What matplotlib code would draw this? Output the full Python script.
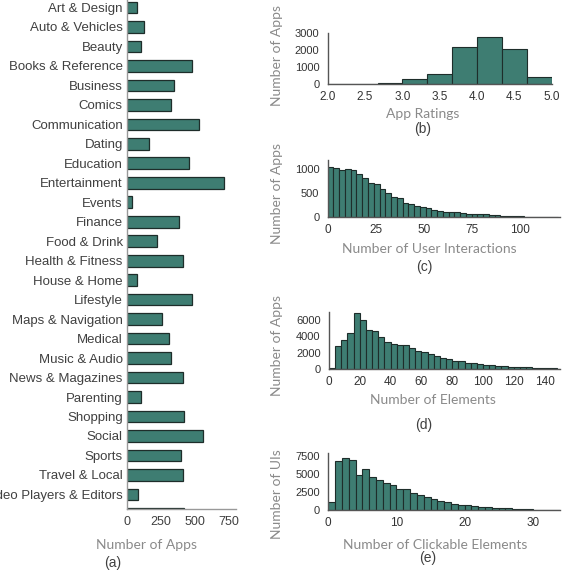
import matplotlib
matplotlib.use("Agg")
import matplotlib.pyplot as plt
import numpy as np

# (a) apps per category
categories = ["Art & Design", "Auto & Vehicles", "Beauty", "Books & Reference", "Business",
              "Comics", "Communication", "Dating", "Education", "Entertainment", "Events",
              "Finance", "Food & Drink", "Health & Fitness", "House & Home", "Lifestyle",
              "Maps & Navigation", "Medical", "Music & Audio", "News & Magazines", "Parenting",
              "Shopping", "Social", "Sports", "Travel & Local", "Video Players & Editors", "Weather"]
category_counts = [71, 125, 100, 479, 347, 322, 525, 159, 454, 713, 34, 381, 220, 410, 71, 479,
                   257, 310, 325, 413, 103, 415, 557, 396, 408, 83, 418]

# (b) app ratings, bins of 1/3 from 2.0 to 5.0
rating_edges = [2.0, 2.333, 2.667, 3.0, 3.333, 3.667, 4.0, 4.333, 4.667, 5.0]
rating_counts = [5, 10, 55, 305, 615, 2170, 2750, 2040, 420]

# (c) user interactions per app, bins of 3
interaction_bin = 3
interaction_counts = [1042, 1028, 979, 1000, 979, 910, 819, 722, 688, 590, 500, 430, 403, 292,
                      271, 236, 215, 185, 145, 125, 111, 104, 104, 97, 69, 62, 62, 62, 55, 42,
                      28, 28, 28, 21, 14, 14, 7, 7, 7, 7]

# (d) elements per UI, bins of 4
element_bin = 4
element_counts = [80, 2816, 3590, 4408, 6857, 6000, 4776, 4612, 3959, 3347, 3102, 2939, 2939,
                  2571, 2245, 2041, 1810, 1650, 1306, 1184, 1020, 1020, 776, 735, 612, 490, 449,
                  408, 327, 286, 245, 204, 204, 163, 122, 122, 82, 60]

# (e) clickable elements per UI, bins of 1
clickable_bin = 1
clickable_counts = [1060, 6728, 7143, 6912, 4885, 5668, 4608, 4101, 3687, 3410, 2949, 2949,
                    2350, 2074, 1797, 1520, 1290, 1106, 875, 691, 645, 507, 461, 369, 322, 276,
                    230, 138, 138, 92, 46, 35, 25, 15, 10]

BAR = "#3e7d72"
EDGE = "#1e2d2a"
LABEL_GRAY = "#8a8a8a"
TEXT = "#404040"
W, H = 566, 575

fig = plt.figure(figsize=(W / 100, H / 100), dpi=100)


def px_axes(left, top, right, bottom):
    return fig.add_axes([left / W, 1 - bottom / H, (right - left) / W, (bottom - top) / H])


def px_text(x, y, s, **kw):
    fig.text(x / W, 1 - y / H, s, ha="center", va="center", **kw)


def style(ax, xsize=8.5, ysize=8):
    for side in ["top", "right"]:
        ax.spines[side].set_visible(False)
    for side in ["left", "bottom"]:
        ax.spines[side].set_color("#555555")
        ax.spines[side].set_linewidth(1.0)
    ax.tick_params(length=0, colors="#333333")
    ax.tick_params(axis="x", labelsize=xsize)
    ax.tick_params(axis="y", labelsize=ysize)
    for lab in ax.get_xticklabels() + ax.get_yticklabels():
        lab.set_family("Liberation Sans")


label_font = dict(family="Lato", color=LABEL_GRAY, fontsize=10)
caption_font = dict(family="Liberation Sans", color=TEXT, fontsize=10)

# (a)
ax = px_axes(127, 0, 236, 509)
y = np.arange(len(categories))
ax.barh(y, category_counts, height=0.6, color=BAR, edgecolor=EDGE, linewidth=0.9)
ax.set_yticks(y)
ax.set_yticklabels(categories)
ax.set_ylim(25.75, -0.385)
ax.set_xlim(0, 800)
ax.set_xticks([0, 250, 500, 750])
style(ax, xsize=9, ysize=9.5)
ax.tick_params(axis="y", colors=TEXT, pad=3)
ax.tick_params(axis="x", colors=TEXT, pad=5)
ax.spines["left"].set_color("#999999")
ax.spines["bottom"].set_color("#999999")
px_text(146, 545, "Number of Apps", **label_font)
px_text(113, 563, "(a)", **caption_font)


def hist_panel(box, lefts, counts, width, xlim, ylim, xticks, yticks, ylabel, xlabel, cap,
               ylab_y, xlab_x, cap_x, xlab_y, cap_y):
    ax = px_axes(*box)
    ax.bar(lefts, counts, width=width, align="edge", color=BAR, edgecolor=EDGE, linewidth=0.8)
    ax.set_xlim(*xlim)
    ax.set_ylim(*ylim)
    ax.set_xticks(xticks)
    ax.set_yticks(yticks)
    style(ax)
    ax.tick_params(axis="y", pad=6)
    ax.tick_params(axis="x", pad=5)
    px_text(277, ylab_y, ylabel, rotation=90, **label_font)
    px_text(xlab_x, xlab_y, xlabel, **label_font)
    px_text(cap_x, cap_y, cap, **caption_font)
    return ax


# (b)
ax_b = hist_panel((327.7, 32.7, 551.7, 84.3), rating_edges[:-1], rating_counts,
                  np.diff(rating_edges), (2.0, 5.0), (0, 3000),
                  [2.0, 2.5, 3.0, 3.5, 4.0, 4.5, 5.0], [0, 1000, 2000, 3000],
                  "Number of Apps", "App Ratings", "(b)", 55, 423, 423, 114, 129)
ax_b.set_xticklabels(["2.0", "2.5", "3.0", "3.5", "4.0", "4.5", "5.0"])
for lab in ax_b.get_xticklabels():
    lab.set_family("Liberation Sans")

# (c)
lefts_c = np.arange(len(interaction_counts)) * interaction_bin
hist_panel((327.7, 160, 560, 217.3), lefts_c, interaction_counts, interaction_bin,
           (0, 121), (0, 1195), [0, 25, 50, 75, 100], [0, 500, 1000],
           "Number of Apps", "Number of User Interactions", "(c)", 193, 429, 424, 249, 267)

# (d)
lefts_d = np.arange(len(element_counts)) * element_bin
hist_panel((329, 312.3, 560, 369), lefts_d, element_counts, element_bin,
           (0, 150), (0, 6950), [0, 20, 40, 60, 80, 100, 120, 140], [0, 2000, 4000, 6000],
           "Number of Apps", "Number of Elements", "(d)", 346, 433, 424, 400, 425)

# (e)
lefts_e = np.arange(len(clickable_counts)) * clickable_bin
hist_panel((328.3, 452.7, 560, 510), lefts_e, clickable_counts, clickable_bin,
           (0, 34), (0, 7900), [0, 10, 20, 30], [0, 2500, 5000, 7500],
           "Number of UIs", "Number of Clickable Elements", "(e)", 494, 435, 428, 545, 558)

fig.savefig("out.png", dpi=100, facecolor="white")
